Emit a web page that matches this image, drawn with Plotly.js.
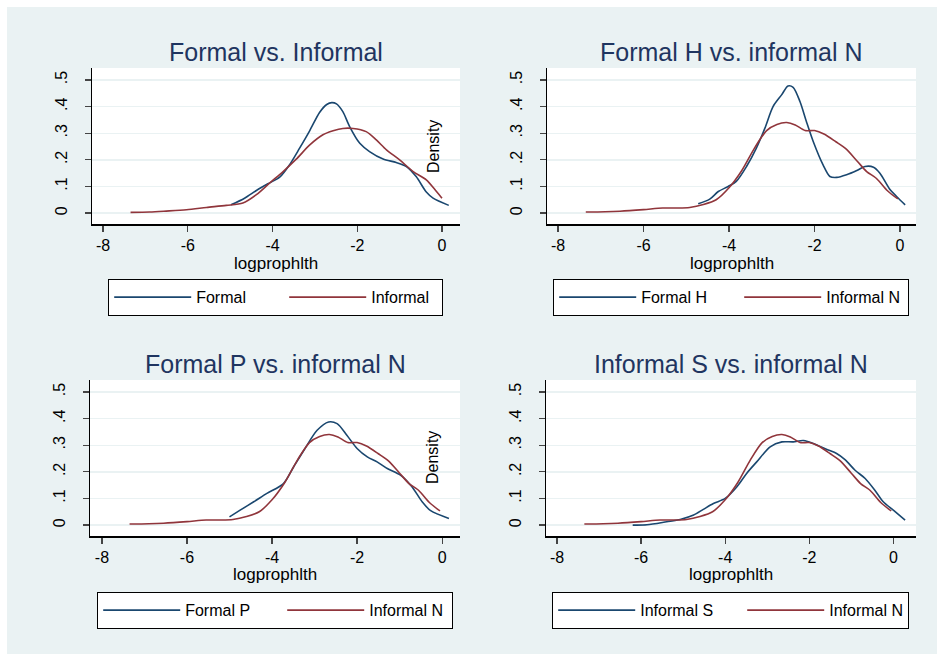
<!DOCTYPE html>
<html>
<head>
<meta charset="utf-8">
<script src="https://cdn.plot.ly/plotly-3.0.1.min.js"></script>
<style>html,body{margin:0;padding:0;background:#fff;}#chart{width:937px;height:654px;}</style>
</head>
<body>
<div id="chart"></div>
<script>
// ---- data ----
const panelTitles = ["Formal vs. Informal", "Formal H vs. informal N", "Formal P vs. informal N", "Informal S vs. informal N"];
const xAxisTitle = "logprophlth";
const yAxisTitle = "Density";
const xTickVals = [-8, -6, -4, -2, 0];
const xTickText = ["-8", "-6", "-4", "-2", "0"];
const yTickVals = [0, 0.1, 0.2, 0.3, 0.4, 0.5];
const yTickText = ["0", ".1", ".2", ".3", ".4", ".5"];

const formalName = "Formal";
const formalX = [-4.98,-4.66,-4.38,-4.11,-3.83,-3.60,-3.36,-3.12,-2.89,-2.72,-2.60,-2.49,-2.34,-2.18,-1.94,-1.71,-1.39,-1.08,-0.84,-0.61,-0.37,-0.21,0.16];
const formalY = [0.031,0.056,0.085,0.110,0.135,0.181,0.244,0.310,0.378,0.408,0.415,0.410,0.381,0.325,0.262,0.231,0.203,0.190,0.175,0.137,0.079,0.056,0.029];

const informalName = "Informal";
const informalX = [-7.35,-6.90,-6.51,-6.03,-5.56,-5.09,-4.70,-4.38,-4.07,-3.75,-3.44,-3.12,-2.81,-2.57,-2.34,-2.10,-1.79,-1.55,-1.31,-1.00,-0.68,-0.37,-0.13,0.00];
const informalY = [0.0025,0.004,0.0075,0.0125,0.021,0.029,0.0375,0.069,0.1125,0.156,0.2025,0.256,0.294,0.309,0.318,0.318,0.306,0.275,0.2375,0.200,0.156,0.125,0.081,0.056];

const formalHName = "Formal H";
const formalHX = [-4.72,-4.45,-4.25,-4.02,-3.83,-3.59,-3.36,-3.16,-2.97,-2.77,-2.62,-2.50,-2.34,-2.19,-2.03,-1.80,-1.64,-1.48,-1.25,-1.01,-0.82,-0.62,-0.47,-0.23,-0.08,0.12];
const formalHY = [0.035,0.0525,0.081,0.100,0.119,0.175,0.244,0.319,0.400,0.444,0.4775,0.4725,0.419,0.344,0.269,0.181,0.1375,0.134,0.144,0.160,0.175,0.1725,0.150,0.0875,0.0625,0.031];

const formalPName = "Formal P";
const formalPX = [-5.00,-4.75,-4.43,-4.12,-3.73,-3.49,-3.25,-2.94,-2.67,-2.47,-2.24,-2.00,-1.76,-1.53,-1.29,-0.98,-0.71,-0.47,-0.27,0.16];
const formalPY = [0.031,0.056,0.0875,0.119,0.156,0.219,0.281,0.356,0.3875,0.381,0.3375,0.2875,0.256,0.2375,0.2125,0.1875,0.144,0.0875,0.054,0.025];

const informalSName = "Informal S";
const informalSX = [-6.20,-5.86,-5.39,-5.07,-4.75,-4.52,-4.28,-4.00,-3.72,-3.49,-3.25,-2.93,-2.65,-2.38,-2.14,-1.86,-1.58,-1.35,-1.15,-0.91,-0.67,-0.44,-0.24,0.00,0.28];
const informalSY = [0.000,0.001,0.0125,0.021,0.0375,0.059,0.081,0.100,0.144,0.194,0.2375,0.294,0.3125,0.3125,0.3175,0.304,0.284,0.269,0.246,0.206,0.175,0.131,0.0875,0.056,0.019];

const informalNName = "Informal N";
const informalNX = [-7.35,-6.90,-6.55,-6.00,-5.55,-5.23,-4.92,-4.60,-4.30,-4.00,-3.70,-3.40,-3.12,-2.88,-2.65,-2.45,-2.22,-2.00,-1.78,-1.50,-1.27,-1.00,-0.78,-0.55,-0.30,-0.05];
const informalNY = [0.004,0.005,0.007,0.013,0.019,0.019,0.021,0.032,0.050,0.095,0.160,0.245,0.310,0.333,0.340,0.331,0.310,0.310,0.297,0.268,0.242,0.195,0.156,0.130,0.085,0.053];

// ---- styling / layout ----
const W = 937, H = 654;
const BLUE = "#1a476f", RED = "#90353b";
const BG = "#eaf2f3";
const FONT = "Liberation Sans, Arial, sans-serif";
const fx = px => px / W;
const fy = py => 1 - py / H;

const panels = [
  {blue: [formalX, formalY, formalName], red: [informalX, informalY, informalName],
   px: [92, 460], py: [68, 224], xr: [-8.26, 0.425], titleY: 52, axisTitleY: 263, density: [433, 147],
   legend: {x: 108, y: 279, ew: [83, 65]}},
  {blue: [formalHX, formalHY, formalHName], red: [informalNX, informalNY, informalNName],
   px: [547, 916], py: [68, 224], xr: [-8.257, 0.374], titleY: 52, axisTitleY: 263, density: null,
   legend: {x: 553, y: 279, ew: [93, 76]}},
  {blue: [formalPX, formalPY, formalPName], red: [informalNX, informalNY, informalNName],
   px: [90, 460], py: [380, 536], xr: [-8.28, 0.42], titleY: 364, axisTitleY: 574, density: [433, 458],
   legend: {x: 97, y: 592, ew: [92, 77]}},
  {blue: [informalSX, informalSY, informalSName], red: [informalNX, informalNY, informalNName],
   px: [546, 916], py: [380, 536], xr: [-8.262, 0.539], titleY: 364, axisTitleY: 574, density: null,
   legend: {x: 552, y: 592, ew: [97, 73]}}
];

const traces = [];
const layout = {
  width: W, height: H,
  margin: {l: 0, r: 0, t: 0, b: 0},
  paper_bgcolor: BG,
  plot_bgcolor: "#ffffff",
  font: {family: FONT, size: 16, color: "#000"},
  showlegend: true,
  annotations: [],
  shapes: [
    {type: "rect", xref: "paper", yref: "paper", x0: 0, x1: 1, y0: fy(7), y1: 1, fillcolor: "#ffffff", line: {width: 0}, layer: "below"},
    {type: "rect", xref: "paper", yref: "paper", x0: 0, x1: fx(7), y0: 0, y1: 1, fillcolor: "#ffffff", line: {width: 0}, layer: "below"}
  ]
};

panels.forEach((p, i) => {
  const n = i + 1;
  const xa = "xaxis" + (n === 1 ? "" : n), ya = "yaxis" + (n === 1 ? "" : n);
  const xr = "x" + (n === 1 ? "" : n), yr = "y" + (n === 1 ? "" : n);
  const lg = "legend" + (n === 1 ? "" : n);
  const series = [[p.blue, BLUE], [p.red, RED]];
  series.forEach(([s, col], k) => {
    traces.push({
      type: "scatter", mode: "lines", x: s[0], y: s[1], name: s[2],
      xaxis: xr, yaxis: yr, legend: lg, legendwidth: p.legend.ew[k],
      line: {color: col, width: 1.6, shape: "spline", smoothing: 0.8},
      hoverinfo: "skip"
    });
  });
  layout[xa] = {
    domain: [fx(p.px[0]), fx(p.px[1])], range: p.xr, anchor: yr,
    showgrid: false, zeroline: false,
    showline: true, linecolor: "#000", linewidth: 1.5,
    ticks: "outside", ticklen: 6, tickwidth: 1.2, tickcolor: "#444",
    tickvals: xTickVals, ticktext: xTickText,
    tickfont: {family: FONT, size: 16, color: "#000"},
    ticklabelstandoff: 0
  };
  layout[ya] = {
    domain: [fy(p.py[1]), fy(p.py[0])], range: [-0.041, 0.545], anchor: xr,
    showgrid: true, gridcolor: BG, gridwidth: 1.4, zeroline: false,
    showline: true, linecolor: "#000", linewidth: 1.5,
    ticks: "outside", ticklen: 6, tickwidth: 1.2, tickcolor: "#444",
    tickvals: yTickVals, ticktext: yTickText, tickangle: -90,
    tickfont: {family: FONT, size: 16, color: "#000"},
    ticklabelstandoff: 11
  };
  const cx = (p.px[0] + p.px[1]) / 2;
  layout.annotations.push({
    text: panelTitles[i], xref: "paper", yref: "paper", x: fx(cx), y: fy(p.titleY),
    xanchor: "center", yanchor: "middle", showarrow: false,
    font: {family: FONT, size: 25, color: "#1f3560"}
  });
  layout.annotations.push({
    text: xAxisTitle, xref: "paper", yref: "paper", x: fx(cx), y: fy(p.axisTitleY),
    xanchor: "center", yanchor: "middle", showarrow: false,
    font: {family: FONT, size: 17, color: "#000"}
  });
  if (p.density) {
    layout.annotations.push({
      text: yAxisTitle, xref: "paper", yref: "paper", x: fx(p.density[0]), y: fy(p.density[1]),
      xanchor: "center", yanchor: "middle", textangle: -90, showarrow: false,
      font: {family: FONT, size: 16, color: "#000"}
    });
  }
  layout[lg] = {
    x: fx(p.legend.x), y: fy(p.legend.y), xanchor: "left", yanchor: "top",
    orientation: "h", bgcolor: "#ffffff", bordercolor: "#000", borderwidth: 1.2,
    itemwidth: 77, entrywidthmode: "pixels",
    font: {family: FONT, size: 16, color: "#000"},
    itemclick: false, itemdoubleclick: false
  };
});

Plotly.newPlot("chart", traces, layout, {staticPlot: true, displayModeBar: false});
</script>
</body>
</html>
